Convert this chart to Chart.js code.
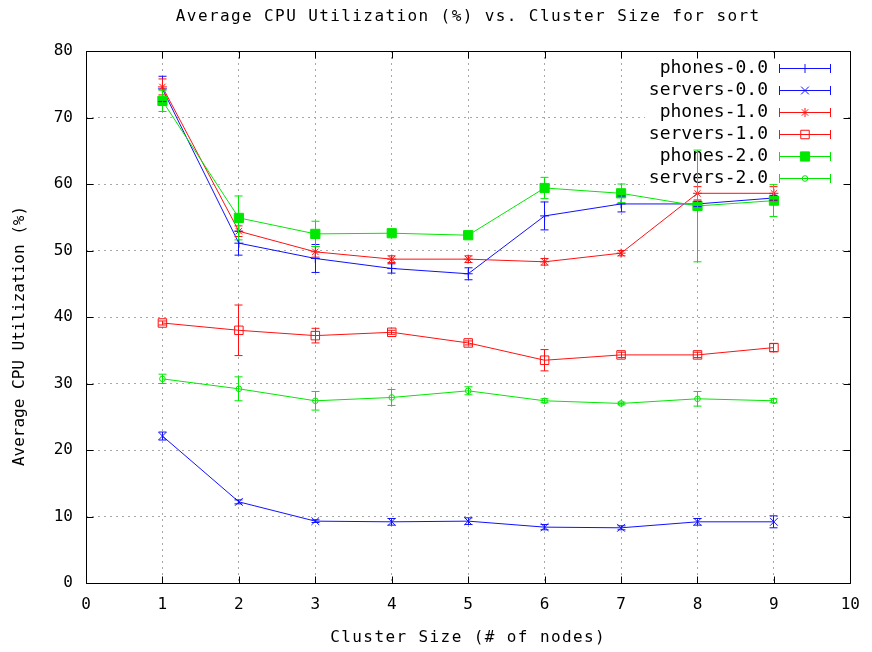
<!DOCTYPE html>
<html lang="en">
<head>
  <meta charset="UTF-8" />
  <title>Average CPU Utilization (%) vs. Cluster Size for sort</title>
  <script src="https://cdn.jsdelivr.net/npm/chart.js"></script>
  <style>
    body { margin: 0; background: #fff; }
    #wrap { width: 872px; height: 652px; }
  </style>
</head>
<body>
  <div id="wrap"><canvas id="cpuChart"></canvas></div>

  <script>
    // cluster size (# of nodes)
    const clusterSizes = [1, 2, 3, 4, 5, 6, 7, 8, 9];

    // average CPU utilization (%) and error (+/-) per series
    const phones00 = [74.3, 51.1, 48.8, 47.3, 46.5, 55.2, 57.0, 57.0, 57.9];
    const phones00Err = [1.9, 1.8, 2.1, 0.7, 0.9, 2.1, 1.2, 0.4, 0.4];
    const servers00 = [22.1, 12.2, 9.3, 9.2, 9.3, 8.4, 8.3, 9.2, 9.2];
    const servers00Err = [0.6, 0.3, 0.2, 0.5, 0.5, 0.4, 0.3, 0.5, 0.9];
    const phones10 = [74.6, 52.9, 49.8, 48.7, 48.7, 48.3, 49.6, 58.6, 58.6];
    const phones10Err = [1.2, 0.8, 0.8, 0.5, 0.5, 0.5, 0.4, 1.0, 1.0];
    const servers10 = [39.1, 38.0, 37.2, 37.7, 36.1, 33.5, 34.3, 34.3, 35.4];
    const servers10Err = [0.3, 3.8, 1.1, 0.3, 0.3, 1.6, 0.4, 0.4, 0.6];
    const phones20 = [72.5, 54.9, 52.5, 52.6, 52.3, 59.4, 58.6, 56.7, 57.5];
    const phones20Err = [1.6, 3.3, 1.9, 0.3, 0.3, 1.6, 1.4, 8.4, 2.4];
    const servers20 = [30.7, 29.2, 27.4, 27.9, 28.9, 27.4, 27.0, 27.7, 27.4];
    const servers20Err = [0.7, 1.8, 1.4, 1.2, 0.6, 0.3, 0.2, 1.1, 0.3];

    const seriesNames = ['phones-0.0', 'servers-0.0', 'phones-1.0', 'servers-1.0', 'phones-2.0', 'servers-2.0'];
    const seriesValues = [phones00, servers00, phones10, servers10, phones20, servers20];
    const seriesErrors = [phones00Err, servers00Err, phones10Err, servers10Err, phones20Err, servers20Err];

    const xTicks = [0, 1, 2, 3, 4, 5, 6, 7, 8, 9, 10];
    const yTicks = [0, 10, 20, 30, 40, 50, 60, 70, 80];

    // look of each series (gnuplot style)
    const BLUE = '#1010ff', RED = '#ff1010', GREEN = '#00e800';
    const styles = [
      { color: BLUE,  pointStyle: 'cross',    radius: 4.5, fill: false },
      { color: BLUE,  pointStyle: 'crossRot', radius: 5.5, fill: false },
      { color: RED,   pointStyle: 'star',     radius: 4.5, fill: false },
      { color: RED,   pointStyle: 'rect',     radius: 6,   fill: false },
      { color: GREEN, pointStyle: 'rect',     radius: 6.5, fill: true },
      { color: GREEN, pointStyle: 'circle',   radius: 2.8, fill: false }
    ];

    const MONO = '"DejaVu Sans Mono", "Liberation Mono", monospace';

    // frame, inward ticks, titles and key drawn the gnuplot way
    const gnuplotDecor = {
      id: 'gnuplotDecor',
      beforeDatasetsDraw(chart) {
        const { ctx, chartArea: a, scales: { x, y } } = chart;
        const L = Math.round(a.left) + 0.5, R = Math.round(a.right) + 0.5;
        const T = Math.round(a.top) + 0.5, B = Math.round(a.bottom) + 0.5;
        ctx.save();

        // key background
        ctx.fillStyle = '#fff';
        ctx.fillRect(645, 57, 200, 132);

        // border + tics
        ctx.strokeStyle = '#000';
        ctx.lineWidth = 1;
        ctx.beginPath();
        ctx.rect(L, T, R - L, B - T);
        yTicks.forEach(v => {
          const py = Math.round(y.getPixelForValue(v)) + 0.5;
          ctx.moveTo(L, py); ctx.lineTo(L + 7, py);
          ctx.moveTo(R, py); ctx.lineTo(R - 7, py);
        });
        xTicks.forEach(v => {
          const px = Math.round(x.getPixelForValue(v)) + 0.5;
          ctx.moveTo(px, B); ctx.lineTo(px, B - 7);
          ctx.moveTo(px, T); ctx.lineTo(px, T + 7);
        });
        ctx.stroke();

        // titles
        ctx.fillStyle = '#000';
        ctx.textAlign = 'center';
        ctx.textBaseline = 'middle';
        ctx.font = '16px ' + MONO;
        ctx.letterSpacing = '1.4px';
        ctx.fillText('Average CPU Utilization (%) vs. Cluster Size for sort', (a.left + a.right) / 2, 17);
        ctx.fillText('Cluster Size (# of nodes)', (a.left + a.right) / 2, 638);
        ctx.save();
        ctx.translate(20, (a.top + a.bottom) / 2 + 19);
        ctx.rotate(-Math.PI / 2);
        ctx.letterSpacing = '0px';
        ctx.fillText('Average CPU Utilization (%)', 0, 0);
        ctx.restore();

        // key
        ctx.letterSpacing = '0px';
        ctx.font = '18px ' + MONO;
        ctx.textAlign = 'right';
        seriesNames.forEach((name, i) => {
          const ry = 68 + i * 22;
          const s = styles[i];
          ctx.fillStyle = '#000';
          ctx.fillText(name, 768, ry);
          ctx.strokeStyle = s.color;
          ctx.lineWidth = 1;
          ctx.beginPath();
          ctx.moveTo(779, ry + 0.5); ctx.lineTo(830, ry + 0.5);
          ctx.moveTo(779.5, ry - 4); ctx.lineTo(779.5, ry + 5);
          ctx.moveTo(830.5, ry - 4); ctx.lineTo(830.5, ry + 5);
          ctx.stroke();
          ctx.fillStyle = s.fill ? s.color : 'rgba(0,0,0,0)';
          Chart.helpers.drawPoint(ctx, { pointStyle: s.pointStyle, radius: s.radius, borderWidth: 1, rotation: 0 }, 805, ry + 0.5);
        });
        ctx.restore();
      },
      afterDatasetsDraw(chart) {
        const { ctx, scales: { y } } = chart;
        ctx.save();
        ctx.lineWidth = 1;
        seriesValues.forEach((vals, i) => {
          const meta = chart.getDatasetMeta(i);
          ctx.strokeStyle = styles[i].color;
          ctx.beginPath();
          vals.forEach((v, j) => {
            const e = seriesErrors[i][j];
            // same pixel alignment as the grid lines
            const px = Math.round(meta.data[j].x - 0.5) + 0.5;
            const top = y.getPixelForValue(v + e);
            const bot = y.getPixelForValue(v - e);
            ctx.moveTo(px, top); ctx.lineTo(px, bot);
            ctx.moveTo(px - 4, top); ctx.lineTo(px + 4, top);
            ctx.moveTo(px - 4, bot); ctx.lineTo(px + 4, bot);
          });
          ctx.stroke();
        });
        ctx.restore();
      }
    };

    const datasets = seriesValues.map((vals, i) => ({
      label: seriesNames[i],
      data: vals.map((v, j) => ({ x: clusterSizes[j], y: v })),
      borderColor: styles[i].color,
      backgroundColor: styles[i].fill ? styles[i].color : 'rgba(0,0,0,0)',
      pointBorderColor: styles[i].color,
      pointBackgroundColor: styles[i].fill ? styles[i].color : 'rgba(0,0,0,0)',
      pointStyle: styles[i].pointStyle,
      pointRadius: styles[i].radius,
      pointBorderWidth: 1,
      borderWidth: 1,
      tension: 0,
      fill: false,
      order: seriesNames.length - i
    }));

    new Chart(document.getElementById('cpuChart'), {
      type: 'line',
      data: { datasets },
      plugins: [gnuplotDecor],
      options: {
        responsive: true,
        maintainAspectRatio: false,
        animation: false,
        layout: { padding: { top: 51, right: 19, left: 0, bottom: 0 } },
        plugins: {
          legend: { display: false },
          title: { display: false },
          tooltip: { enabled: false }
        },
        scales: {
          x: {
            type: 'linear',
            min: 0, max: 10,
            afterFit: s => { s.height = 69; },
            afterBuildTicks: s => { s.ticks = xTicks.map(v => ({ value: v })); },
            ticks: { color: '#000', font: { family: MONO, size: 16 }, padding: 12, maxRotation: 0 },
            grid: { color: '#a8a8a8', lineWidth: 1, drawTicks: false },
            border: { display: false, dash: [2, 4] }
          },
          y: {
            min: 0, max: 80,
            afterFit: s => { s.width = 86; },
            afterBuildTicks: s => { s.ticks = yTicks.map(v => ({ value: v })); },
            ticks: { color: '#000', font: { family: MONO, size: 16 }, padding: 13 },
            grid: { color: '#a8a8a8', lineWidth: 1, drawTicks: false },
            border: { display: false, dash: [2, 4] }
          }
        }
      }
    });
  </script>
</body>
</html>
